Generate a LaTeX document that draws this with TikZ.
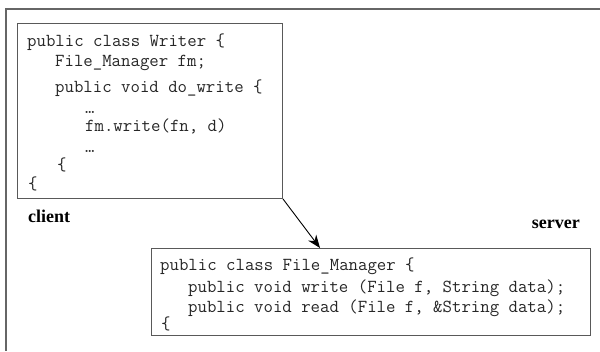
\documentclass[tikz,border=0pt]{standalone}
\usepackage{fontspec}
\setmainfont{Liberation Serif}
\usetikzlibrary{arrows.meta,calc}
\tikzset{
  frame/.style={draw=black!60, line width=1.3bp},
  codebox/.style={draw=black!65, line width=1bp, anchor=north west, inner sep=0pt},
  code/.style={anchor=base west, inner sep=0pt, font=\ttfamily\fontsize{18.3bp}{20bp}\selectfont, text=black!85},
  tag/.style={inner sep=0pt, font=\bfseries\fontsize{18bp}{20bp}\selectfont},
  link/.style={draw=black, line width=0.9bp, -{Stealth[length=13bp,width=10bp]}}
}
\begin{document}
\begin{tikzpicture}[x=1bp,y=-1bp]
\useasboundingbox (0,0) rectangle (600,351);
\fill[white] (0,0) rectangle (600,351);
% outer frame (top and left edges)
\draw[frame] (600,9) -- (6,9) -- (6,351);
% client box
\node[codebox, minimum width=265bp, minimum height=175bp] (client) at (17,23) {};
\node[code] (c1) at (27,46) {public class Writer \{};
\node[code] (c2) at (55,66) {File\_Manager fm;};
\node[code] (c3) at (55,92) {public void do\_write \{};
\node[code] (c4) at (85,113) {…};
\node[code] (c5) at (85,131) {fm.write(fn, d)};
\node[code] (c6) at (85,152) {…};
\node[code] (c7) at (57,170) {\{};
\node[code] (c8) at (28,189) {\{};
\node[tag, anchor=base west] (clientlabel) at (28,222) {client};
% server box
\node[codebox, minimum width=439bp, minimum height=87bp] (server) at (151,248) {};
\node[code] (s1) at (160,270) {public class File\_Manager \{};
\node[code] (s2) at (188,292) {public void write (File f, String data);};
\node[code] (s3) at (188,312) {public void read (File f, \&String data);};
\node[code] (s4) at (161,329) {\{};
\node[tag, anchor=base east] (serverlabel) at (580,228) {server};
% connector
\draw[link] (client.south east) -- ($(server.north west)+(169,0)$);
\end{tikzpicture}
\end{document}
